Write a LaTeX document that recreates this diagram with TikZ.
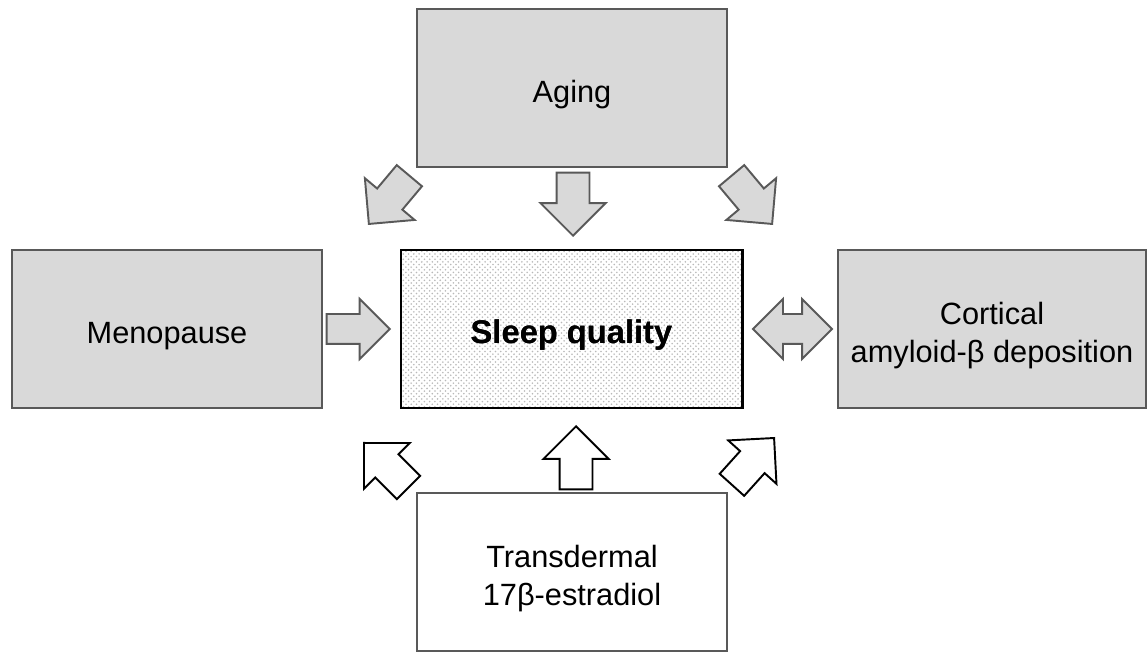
\documentclass[tikz,border=0pt]{standalone}
\usepackage{fontspec}
\setmainfont{Liberation Sans}
\usetikzlibrary{shapes.arrows,patterns}
\definecolor{boxfill}{HTML}{D9D9D9}
\definecolor{boxline}{HTML}{595959}
\begin{document}
\begin{tikzpicture}[
 factor/.style={draw=boxline,line width=1.1pt,fill=boxfill,minimum width=6.2cm,minimum height=3.16cm,align=center,font=\fontsize{17.5}{22}\selectfont},
 treat/.style={factor,fill=white},
 outcome/.style={factor,draw=black,line width=1.7pt,fill=white,minimum width=6.82cm,font=\fontsize{18.6}{22}\selectfont\bfseries},
 grayarrow/.style={single arrow,draw=boxline,fill=boxfill,line width=1.1pt,minimum height=1.26cm,minimum width=1.26cm,inner xsep=0pt,inner ysep=0.31cm,single arrow head extend=0.32cm,anchor=tip},
 whitearrow/.style={grayarrow,draw=black,fill=white},
 bothway/.style={double arrow,draw=boxline,fill=boxfill,line width=1.1pt,minimum height=1.58cm,minimum width=1.16cm,inner xsep=0pt,inner ysep=0.28cm,double arrow head extend=0.3cm}]
 \useasboundingbox (0,0) rectangle (22.94,13.04);
 \def\lift{\rule{0pt}{20pt}}
 % boxes
 \node[factor] (aging) at (11.44,11.28) {\lift Aging};
 \node[factor] (meno) at (3.34,6.46) {\lift Menopause};
 \node[outcome,preaction={fill=white},pattern=crosshatch dots,pattern color=gray!55] (sleep) at (11.43,6.46) {\lift Sleep quality};
 \node[factor,minimum width=6.16cm] (amyloid) at (19.84,6.46) {\lift Cortical\\amyloid-β deposition};
 \node[treat] (estra) at (11.44,1.6) {\lift Transdermal\\17β-estradiol};
 \node[outcome,fill=none] at (sleep) {\lift Sleep quality};
 % arrows from aging (placed at their tips)
 \node[grayarrow,rotate=230] (a1) at (7.36,8.54) {};
 \node[grayarrow,rotate=-90] (a2) at (11.46,8.30) {};
 \node[grayarrow,rotate=-50] (a3) at (15.46,8.54) {};
 % middle row
 \node[grayarrow,minimum width=1.16cm,inner ysep=0.28cm,single arrow head extend=0.3cm] (m1) at (7.82,6.46) {};
 \node[bothway] (m2) at (15.85,6.46) {};
 % arrows from estradiol
 \node[whitearrow,rotate=135] (e1) at (7.26,4.20) {};
 \node[whitearrow,rotate=90] (e2) at (11.52,4.54) {};
 \node[whitearrow,rotate=48] (e3) at (15.50,4.30) {};
\end{tikzpicture}
\end{document}
